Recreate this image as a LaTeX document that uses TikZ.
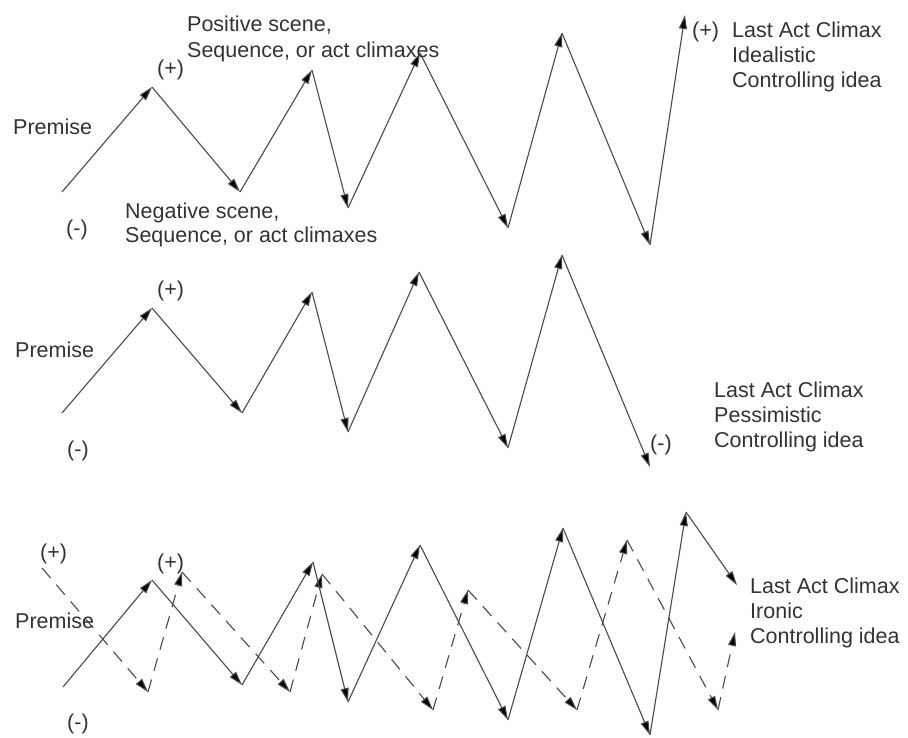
\documentclass[tikz,border=0pt]{standalone}
\usepackage{fontspec}
\setmainfont{Liberation Sans}
\usetikzlibrary{arrows.meta}
\definecolor{ln}{HTML}{4A4A4A}
\definecolor{tx}{HTML}{333333}
\tikzset{
  arr/.style={draw=ln, line width=1.1pt, -{Triangle[length=14pt,width=8pt,fill=black]}},
  darr/.style={arr, dash pattern=on 13pt off 9pt},
  lbl/.style={anchor=base west, inner sep=0pt, text=tx, font=\fontsize{21.5}{25}\selectfont}
}
\begin{document}
\begin{tikzpicture}[x=1pt,y=-1pt]
\useasboundingbox[fill=white] (0,0) rectangle (908,738);
% ---------- panel 1 ----------
\coordinate (a0) at (62,192);
\coordinate (a1) at (152,87);
\coordinate (a2) at (240,192);
\coordinate (a3) at (312,70);
\coordinate (a4) at (348,208);
\coordinate (a5) at (420,53);
\coordinate (a6) at (508,228);
\coordinate (a7) at (562,33);
\coordinate (a8) at (650,245);
\coordinate (a9) at (685,15);
\draw[arr] (a0) -- (a1);
\draw[arr] (a1) -- (a2);
\draw[arr] (a2) -- (a3);
\draw[arr] (a3) -- (a4);
\draw[arr] (a4) -- (a5);
\draw[arr] (a5) -- (a6);
\draw[arr] (a6) -- (a7);
\draw[arr] (a7) -- (a8);
\draw[arr] (a8) -- (a9);
\node[lbl] (p1premise) at (13,135) {Premise};
\node[lbl] (p1plus) at (157,76) {(+)};
\node[lbl] (p1minus) at (66,236) {(-)};
\node[lbl] (p1pos1) at (187,32) {Positive scene,};
\node[lbl] (p1pos2) at (187,58) {Sequence, or act climaxes};
\node[lbl] (p1neg1) at (125,219) {Negative scene,};
\node[lbl] (p1neg2) at (125,243) {Sequence, or act climaxes};
\node[lbl] (p1endplus) at (692,38) {(+)};
\node[lbl] (p1last1) at (732,38) {Last Act Climax};
\node[lbl] (p1last2) at (732,63) {Idealistic};
\node[lbl] (p1last3) at (732,88) {Controlling idea};
% ---------- panel 2 ----------
\coordinate (b0) at (62,413);
\coordinate (b1) at (152,308);
\coordinate (b2) at (242,413);
\coordinate (b3) at (312,292);
\coordinate (b4) at (348,432);
\coordinate (b5) at (419,272);
\coordinate (b6) at (508,448);
\coordinate (b7) at (562,255);
\coordinate (b8) at (650,467);
\draw[arr] (b0) -- (b1);
\draw[arr] (b1) -- (b2);
\draw[arr] (b2) -- (b3);
\draw[arr] (b3) -- (b4);
\draw[arr] (b4) -- (b5);
\draw[arr] (b5) -- (b6);
\draw[arr] (b6) -- (b7);
\draw[arr] (b7) -- (b8);
\node[lbl] (p2premise) at (15,357) {Premise};
\node[lbl] (p2plus) at (157,296) {(+)};
\node[lbl] (p2minus) at (67,456) {(-)};
\node[lbl] (p2endminus) at (650,450) {(-)};
\node[lbl] (p2last1) at (714,397) {Last Act Climax};
\node[lbl] (p2last2) at (714,422) {Pessimistic};
\node[lbl] (p2last3) at (714,447) {Controlling idea};
% ---------- panel 3 ----------
\coordinate (c0) at (63,687);
\coordinate (c1) at (152,580);
\coordinate (c2) at (242,685);
\coordinate (c3) at (313,562);
\coordinate (c4) at (348,702);
\coordinate (c5) at (420,545);
\coordinate (c6) at (508,720);
\coordinate (c7) at (563,528);
\coordinate (c8) at (650,735);
\coordinate (c9) at (686,512);
\coordinate (c10) at (737,585);
\coordinate (d0) at (42,568);
\coordinate (d1) at (148,692);
\coordinate (d2) at (182,572);
\coordinate (d3) at (290,692);
\coordinate (d4) at (322,574);
\coordinate (d5) at (433,710);
\coordinate (d6) at (468,590);
\coordinate (d7) at (577,710);
\coordinate (d8) at (627,540);
\coordinate (d9) at (718,710);
\coordinate (d10) at (735,632);
\draw[darr] (d0) -- (d1);
\draw[darr] (d1) -- (d2);
\draw[darr] (d2) -- (d3);
\draw[darr] (d3) -- (d4);
\draw[darr] (d4) -- (d5);
\draw[darr] (d5) -- (d6);
\draw[darr] (d6) -- (d7);
\draw[darr] (d7) -- (d8);
\draw[darr] (d8) -- (d9);
\draw[darr] (d9) -- (d10);
\draw[arr] (c0) -- (c1);
\draw[arr] (c1) -- (c2);
\draw[arr] (c2) -- (c3);
\draw[arr] (c3) -- (c4);
\draw[arr] (c4) -- (c5);
\draw[arr] (c5) -- (c6);
\draw[arr] (c6) -- (c7);
\draw[arr] (c7) -- (c8);
\draw[arr] (c8) -- (c9);
\draw[arr] (c9) -- (c10);
\node[lbl] (p3plusa) at (40,559) {(+)};
\node[lbl] (p3plusb) at (157,569) {(+)};
\node[lbl] (p3premise) at (15,628) {Premise};
\node[lbl] (p3minus) at (67,729) {(-)};
\node[lbl] (p3last1) at (750,593) {Last Act Climax};
\node[lbl] (p3last2) at (750,618) {Ironic};
\node[lbl] (p3last3) at (750,643) {Controlling idea};
\end{tikzpicture}
\end{document}
